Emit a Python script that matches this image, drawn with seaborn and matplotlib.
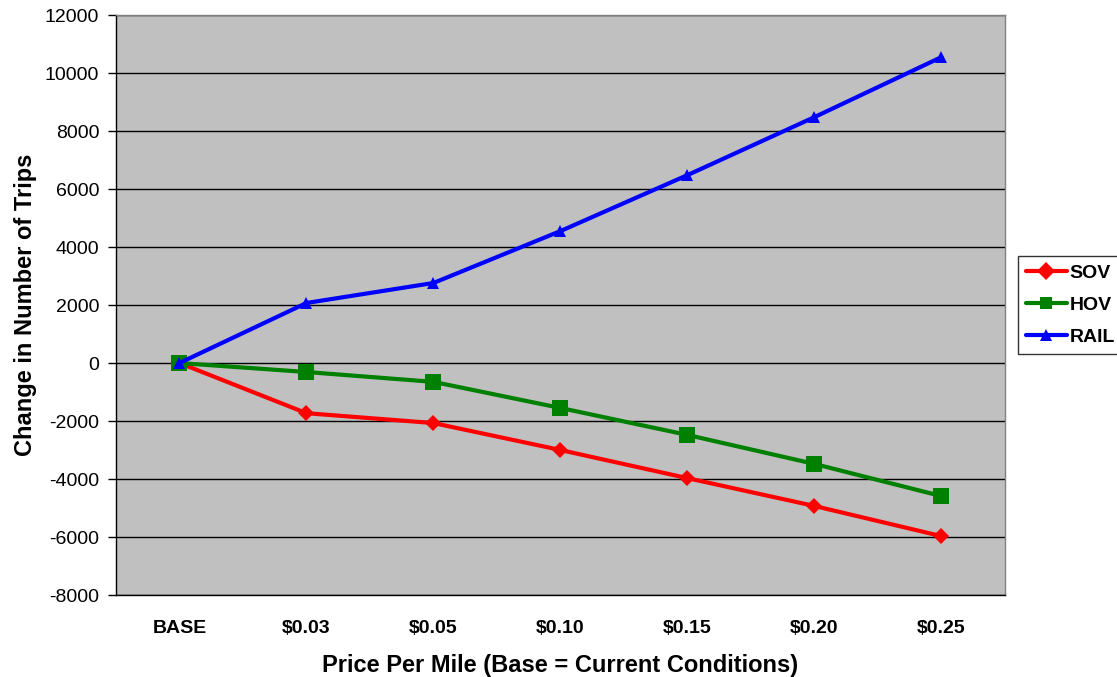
import matplotlib
matplotlib.use("Agg")
import matplotlib.pyplot as plt
import pandas as pd
import seaborn as sns

prices = ['BASE', '$0.03', '$0.05', '$0.10', '$0.15', '$0.20', '$0.25']
sov = [0, -1730, -2070, -3000, -3970, -4930, -5970]
hov = [0, -310, -650, -1550, -2480, -3480, -4590]
rail = [0, 2070, 2760, 4550, 6480, 8480, 10550]
modes = ['SOV', 'HOV', 'RAIL']

df = pd.DataFrame({
    'pos': list(range(len(prices))) * 3,
    'trips': sov + hov + rail,
    'mode': [m for m in modes for _ in prices],
})

sns.set_style('white')
plt.rcParams['font.family'] = ['Liberation Sans', 'DejaVu Sans']
plt.rcParams['text.color'] = 'black'
plt.rcParams['axes.labelcolor'] = 'black'
plt.rcParams['xtick.color'] = 'black'
plt.rcParams['ytick.color'] = 'black'

fig = plt.figure(figsize=(11.17, 6.77), dpi=100)
ax = fig.add_axes([0.1038, 0.1211, 0.7959, 0.8567])
ax.set_facecolor('#c0c0c0')

ax = sns.lineplot(data=df, x='pos', y='trips', hue='mode', style='mode',
                  palette=['#ff0000', '#008000', '#0000ff'],
                  markers=['D', 's', '^'], dashes=False, lw=3,
                  markersize=9, markeredgewidth=0, ax=ax)
for ln, ms in zip(ax.lines, [8, 11, 9]):
    ln.set_markersize(ms)

ax.set_xlim(-0.5, len(prices) - 0.5)
ax.set_ylim(-8000, 12000)
ax.set_yticks(range(-8000, 12001, 2000))
ax.set_yticklabels([str(v) for v in range(-8000, 12001, 2000)], fontsize=14)
ax.yaxis.grid(True, color='black', lw=1)
ax.set_axisbelow(True)

ax.set_xticks([i + 0.5 for i in range(-1, len(prices))])
ax.set_xticklabels([])
ax.set_xticks(range(len(prices)), minor=True)
ax.set_xticklabels(prices, minor=True, fontsize=14, fontweight='bold')
ax.tick_params(axis='x', which='major', direction='out', length=6, width=1, color='black')
ax.tick_params(axis='x', which='minor', length=0, pad=18)
ax.tick_params(axis='y', direction='out', length=6, width=1, color='black', left=True, pad=6)

ax.set_xlabel('Price Per Mile (Base = Current Conditions)', fontsize=17, fontweight='bold', labelpad=12)
ax.set_ylabel('Change in Number of Trips', fontsize=17, fontweight='bold', labelpad=6)

for s in ['left', 'bottom']:
    ax.spines[s].set_color('black')
    ax.spines[s].set_linewidth(1)
for s in ['top', 'right']:
    ax.spines[s].set_color('#808080')
    ax.spines[s].set_linewidth(1)

leg = ax.legend(loc='center left', bbox_to_anchor=(1.0146, 0.5), frameon=True,
                fancybox=False, edgecolor='black', fontsize=14, title=None,
                handlelength=2.1, borderpad=0.4, labelspacing=0.75, handletextpad=0.15,
                borderaxespad=0)
for t in leg.get_texts():
    t.set_fontweight('bold')
leg.get_frame().set_linewidth(1)

fig.savefig('out.png', dpi=100)
